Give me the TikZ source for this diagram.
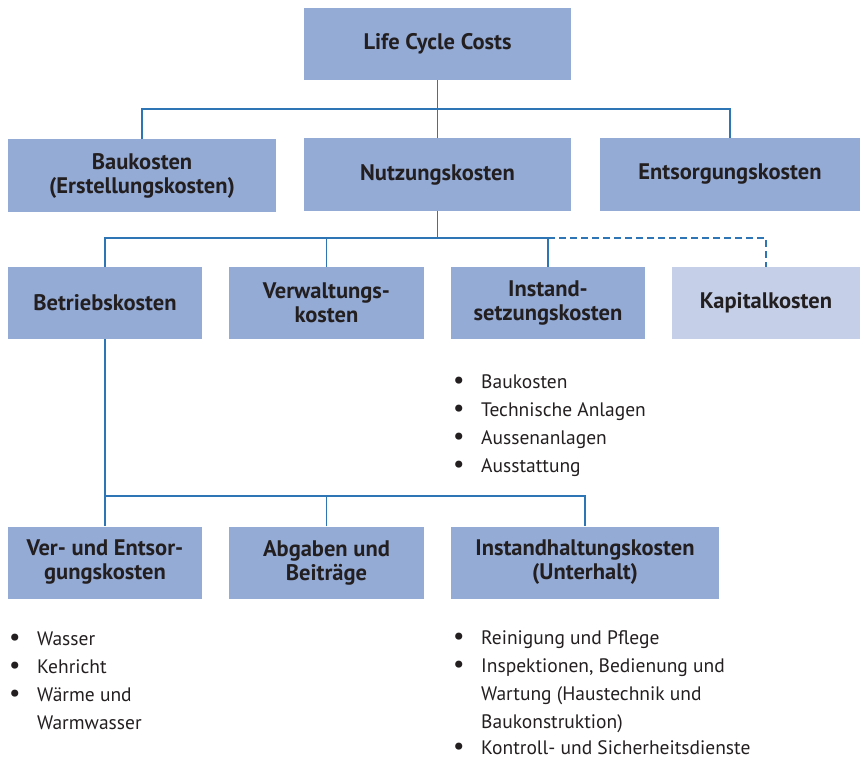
\documentclass[tikz,border=0pt]{standalone}
\usepackage{fontspec}
\setmainfont{PT Sans}
\definecolor{boxblue}{RGB}{148,171,214}
\definecolor{boxlight}{RGB}{197,208,232}
\definecolor{linkblue}{RGB}{46,117,182}
\definecolor{inktext}{RGB}{35,31,32}
\newcommand{\bul}{\scalebox{1.3}{\textbullet}}
\begin{document}
\begin{tikzpicture}[x=1pt,y=-1pt,
  box/.style={fill=boxblue,inner sep=0pt,minimum height=72pt,align=center,
    text=inktext,font=\fontsize{22.5}{24}\selectfont\bfseries},
  link/.style={draw=linkblue,line width=1.3pt},
  bullets/.style={anchor=base west,inner sep=0pt,text=inktext,
    font=\fontsize{19.5}{28}\selectfont}]
\useasboundingbox (0,0) rectangle (861,762);
% boxes
\node[box,minimum width=267pt] (lcc) at (437.5,44) {Life Cycle Costs};
\node[box,minimum width=268pt] (bau) at (142,175.5) {Baukosten\\(Erstellungskosten)};
\node[box,minimum width=267pt] (nutz) at (437.5,174.5) {Nutzungskosten};
\node[box,minimum width=260pt] (ents) at (730,174.5) {Entsorgungskosten};
\node[box,minimum width=194pt] (betr) at (105,303) {Betriebskosten};
\node[box,minimum width=195pt] (verw) at (326.5,303) {Verwaltungs-\\kosten};
\node[box,minimum width=194pt] (inst) at (548,303) {Instand-\\setzungskosten};
\node[box,minimum width=188pt,fill=boxlight] (kap) at (766,303) {Kapitalkosten};
\node[box,minimum width=194pt] (vers) at (105,562.5) {Ver- und Entsor-\\gungskosten};
\node[box,minimum width=195pt] (abg) at (326.5,562.5) {Abgaben und\\Beitr\"age};
\node[box,minimum width=268pt] (insth) at (585,562.5) {Instandhaltungskosten\\(Unterhalt)};
% junctions
\coordinate (j1) at (437.5,109);
\coordinate (j2) at (437.5,238);
\coordinate (j3) at (105,496);
% connectors
\draw[link] (lcc.south) -- (nutz.north);
\draw[link] (bau.north) |- (j1) -| (ents.north);
\draw[link] (nutz.south) -- (j2);
\draw[link] (betr.north) |- (inst.north |- j2) -- (inst.north);
\draw[link] (verw.north) -- (verw.north |- j2);
\draw[link,dash pattern=on 7pt off 4pt] (inst.north |- j2) -| (kap.north);
\draw[link] (betr.south) -- (vers.north);
\draw[link] (j3) -| (insth.north);
\draw[link] (abg.north) -- (abg.north |- j3);
% lists
\node[bullets] (list1) at (453,388) {\smash{\begin{tabular}[t]{@{}p{28pt}@{}l@{}}
\bul & Baukosten\\ \bul & Technische Anlagen\\ \bul & Aussenanlagen\\ \bul & Ausstattung
\end{tabular}}};
\node[bullets] (list2) at (9,645) {\smash{\begin{tabular}[t]{@{}p{28pt}@{}l@{}}
\bul & Wasser\\ \bul & Kehricht\\ \bul & W\"arme und\\ & Warmwasser
\end{tabular}}};
\node[bullets] (list3) at (453,644) {\smash{\begin{tabular}[t]{@{}p{28pt}@{}l@{}}
\bul & Reinigung und Pflege\\ \bul & Inspektionen, Bedienung und\\ & Wartung (Haustechnik und\\ & Baukonstruktion)\\[-1.5pt] \bul & Kontroll- und Sicherheitsdienste
\end{tabular}}};
\end{tikzpicture}
\end{document}
